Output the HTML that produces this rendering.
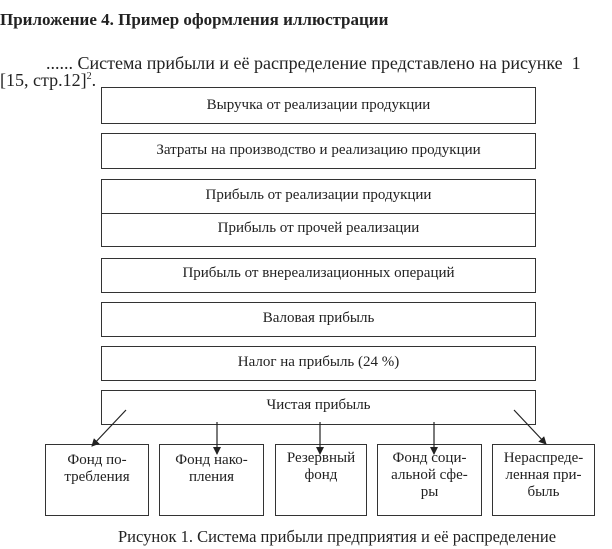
<!DOCTYPE html>
<html><head><meta charset="utf-8"><style>
body{margin:0;width:612px;height:549px;background:#fff;position:relative;overflow:hidden;font-family:"Liberation Serif","Noto Serif CJK SC",serif;color:#222}
.t{position:absolute;white-space:nowrap;line-height:1}
.b{position:absolute;border:1.3px solid #333;box-sizing:border-box;text-align:center;font-size:15px}
</style></head><body>
<div class="t" style="left:0;top:11px;font-size:17px;font-weight:bold">Приложение 4. Пример оформления иллюстрации</div>
<div class="t" style="left:46px;top:54px;font-size:18px">...... Система прибыли и её распределение представлено на рисунке &nbsp;1</div>
<div class="t" style="left:0;top:71px;font-size:18px">[15, стр.12]<sup style="font-size:10px">2</sup>.</div>

<div class="b" style="left:101px;top:87px;width:435px;height:37px;line-height:34px">Выручка от реализации продукции</div>
<div class="b" style="left:101px;top:133px;width:435px;height:36px;line-height:32px">Затраты на производство и реализацию продукции</div>
<div class="b" style="left:101px;top:179px;width:435px;height:68px">
<div style="height:33px;line-height:30px;border-bottom:1.3px solid #333">Прибыль от реализации продукции</div>
<div style="line-height:28px">Прибыль от прочей реализации</div></div>
<div class="b" style="left:101px;top:258px;width:435px;height:35px;line-height:28px">Прибыль от внереализационных операций</div>
<div class="b" style="left:101px;top:302px;width:435px;height:35px;line-height:30px">Валовая прибыль</div>
<div class="b" style="left:101px;top:346px;width:435px;height:35px;line-height:30px">Налог на прибыль (24 %)</div>
<div class="b" style="left:101px;top:390px;width:435px;height:35px;line-height:28px">Чистая прибыль</div>

<div class="b" style="left:45px;top:444px;width:104px;height:72px;line-height:17px;padding-top:7px">Фонд по-<br>требления</div>
<div class="b" style="left:159px;top:444px;width:105px;height:72px;line-height:17px;padding-top:7px">Фонд нако-<br>пления</div>
<div class="b" style="left:275px;top:444px;width:92px;height:72px;line-height:17px;padding-top:5px">Резервный<br>фонд</div>
<div class="b" style="left:377px;top:444px;width:105px;height:72px;line-height:17px;padding-top:5px">Фонд соци-<br>альной сфе-<br>ры</div>
<div class="b" style="left:492px;top:444px;width:103px;height:72px;line-height:17px;padding-top:5px">Нераспреде-<br>ленная при-<br>быль</div>

<svg style="position:absolute;left:0;top:0" width="612" height="549">
<defs><marker id="a" markerWidth="8" markerHeight="8" refX="7" refY="4" orient="auto" markerUnits="userSpaceOnUse"><path d="M0,0 L8,4 L0,8 z" fill="#222"/></marker></defs>
<g stroke="#222" stroke-width="1.2" marker-end="url(#a)">
<line x1="126" y1="410" x2="92" y2="446"/>
<line x1="217" y1="422" x2="217" y2="454"/>
<line x1="320" y1="422" x2="320" y2="454"/>
<line x1="434" y1="422" x2="434" y2="454"/>
<line x1="514" y1="410" x2="546" y2="444"/>
</g></svg>
<div class="t" style="left:118px;top:529px;font-size:16.5px">Рисунок 1. Система прибыли предприятия и её распределение</div>
</body></html>
